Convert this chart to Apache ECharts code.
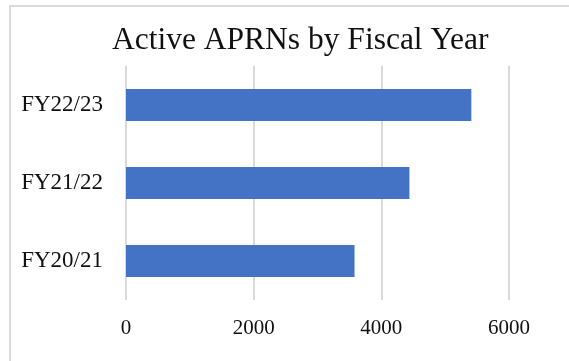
<!DOCTYPE html>
<html>
<head>
<meta charset="utf-8">
<script src="https://cdn.jsdelivr.net/npm/echarts@6/dist/echarts.min.js"></script>
<style>
  html, body { margin: 0; padding: 0; background: #fff; }
  #chart { width: 569px; height: 361px; }
</style>
</head>
<body>
<div id="chart"></div>
<script>
// data
var categories = ['FY20/21', 'FY21/22', 'FY22/23']
var activeAprns = [3580, 4440, 5410]
var xTicks = [0, 2000, 4000, 6000]

var serif = "'Liberation Serif', 'Times New Roman', serif"

var chart = echarts.init(document.getElementById('chart'), null, { renderer: 'canvas' })
chart.setOption({
  animation: false,
  backgroundColor: '#fff',
  title: {
    text: 'Active APRNs by Fiscal Year',
    left: 107,
    top: 20,
    textStyle: {
      fontFamily: serif,
      fontSize: 31.5,
      fontWeight: 'normal',
      color: '#111'
    }
  },
  // outer chart border, cut off at right and bottom like the picture
  graphic: [{
    type: 'rect',
    shape: { x: 10, y: 6, width: 600, height: 400 },
    style: { fill: 'none', stroke: '#d9d9d9', lineWidth: 2 },
    silent: true
  }],
  grid: {
    left: 126,
    right: 60,
    top: 66,
    bottom: 61,
    containLabel: false
  },
  xAxis: {
    type: 'value',
    min: xTicks[0],
    max: xTicks[xTicks.length - 1],
    interval: 2000,
    axisLine: { show: false },
    axisTick: { show: false },
    splitLine: { lineStyle: { color: '#d9d9d9', width: 2 } },
    axisLabel: {
      margin: 18,
      fontFamily: serif,
      fontSize: 21,
      color: '#111',
      formatter: function (v) { return String(v) }
    }
  },
  yAxis: {
    type: 'category',
    data: categories,
    axisLine: { show: false },
    axisTick: { show: false },
    axisLabel: {
      margin: 23,
      fontFamily: serif,
      fontSize: 23,
      color: '#111'
    }
  },
  series: [{
    name: 'Active APRNs',
    type: 'bar',
    barWidth: 32,
    itemStyle: { color: '#4472c4' },
    data: activeAprns
  }]
})
</script>
</body>
</html>
